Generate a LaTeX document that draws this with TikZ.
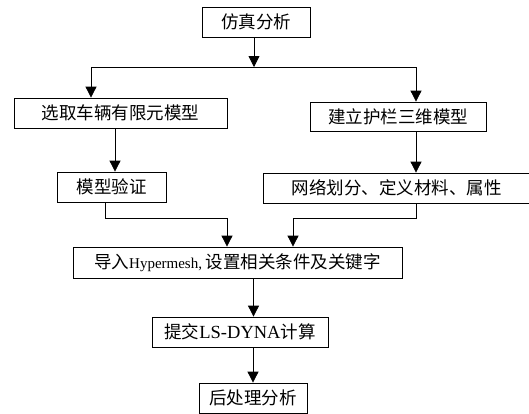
\documentclass[tikz,border=0pt]{standalone}
\usepackage{fontspec}
\setmainfont{Liberation Serif}
\newfontfamily\cjk{Noto Sans CJK SC}
\usetikzlibrary{arrows.meta, positioning, calc}
\newcommand{\zh}[1]{{\cjk\fontsize{17.5}{20}\selectfont #1}}

\begin{document}
\begin{tikzpicture}[x=1pt, y=-1pt,
    box/.style={draw, line width=0.8pt, minimum height=30pt, inner sep=0pt, font=\fontsize{15}{18}\selectfont},
    arrow/.style={-{Triangle[length=11pt, width=11pt]}, line width=0.8pt},
    link/.style={line width=0.8pt}
]

\useasboundingbox (0,0) rectangle (529,413);

% Start
\node[box, minimum width=108pt] (sim) at (256,22) {\zh{仿真分析}};

% Two branches
\node[box, minimum width=213pt] (veh) at (120.5,113) {\zh{选取车辆有限元模型}};
\node[box, minimum width=176pt, minimum height=29pt] (rail) at (398,116.5) {\zh{建立护栏三维模型}};
\node[box, minimum width=109pt] (verify) at (111.5,187) {\zh{模型验证}};
\node[box, minimum width=267pt] (mesh) at (396.5,188) {\zh{网络划分、定义材料、属性}};

% Merge and solve
\node[box, minimum width=329pt, minimum height=31pt] (hm) at (237.5,262.5) {\zh{导入}Hypermesh, \zh{设置相关条件及关键字}};
\node[box, minimum width=176pt] (dyna) at (240,332) {\zh{提交}{\fontsize{18.5}{20}\selectfont LS-DYNA}\zh{计算}};
\node[box, minimum width=108pt] (post) at (253,398) {\zh{后处理分析}};

% Split point
\coordinate (split) at (254,67);
\coordinate (splitL) at (91,67);
\coordinate (splitR) at (416,67);

\draw[arrow] (sim.south -| split) -- (split);
\draw[link] (splitL) -- (splitR);
\draw[arrow] (splitL) -- (splitL |- veh.north);
\draw[arrow] (splitR) -- (splitR |- rail.north);

\draw[arrow] ([xshift=-5.5pt]veh.south) -- ([xshift=-5.5pt]veh.south |- verify.north);
\draw[arrow] ([xshift=18pt]rail.south) -- ([xshift=18pt]rail.south |- mesh.north);

% Merge into Hypermesh
\draw[arrow] ([xshift=-6.5pt]verify.south) -- ++(0,16) -| ([xshift=-10.5pt]hm.north);
\draw[arrow] ([xshift=19.5pt]mesh.south) -- ++(0,15) -| ([xshift=55.5pt]hm.north);

\draw[arrow] ([xshift=16pt]hm.south) -- ([xshift=16pt]hm.south |- dyna.north);
\draw[arrow] (dyna.south -| post) -- (post);

\end{tikzpicture}
\end{document}
